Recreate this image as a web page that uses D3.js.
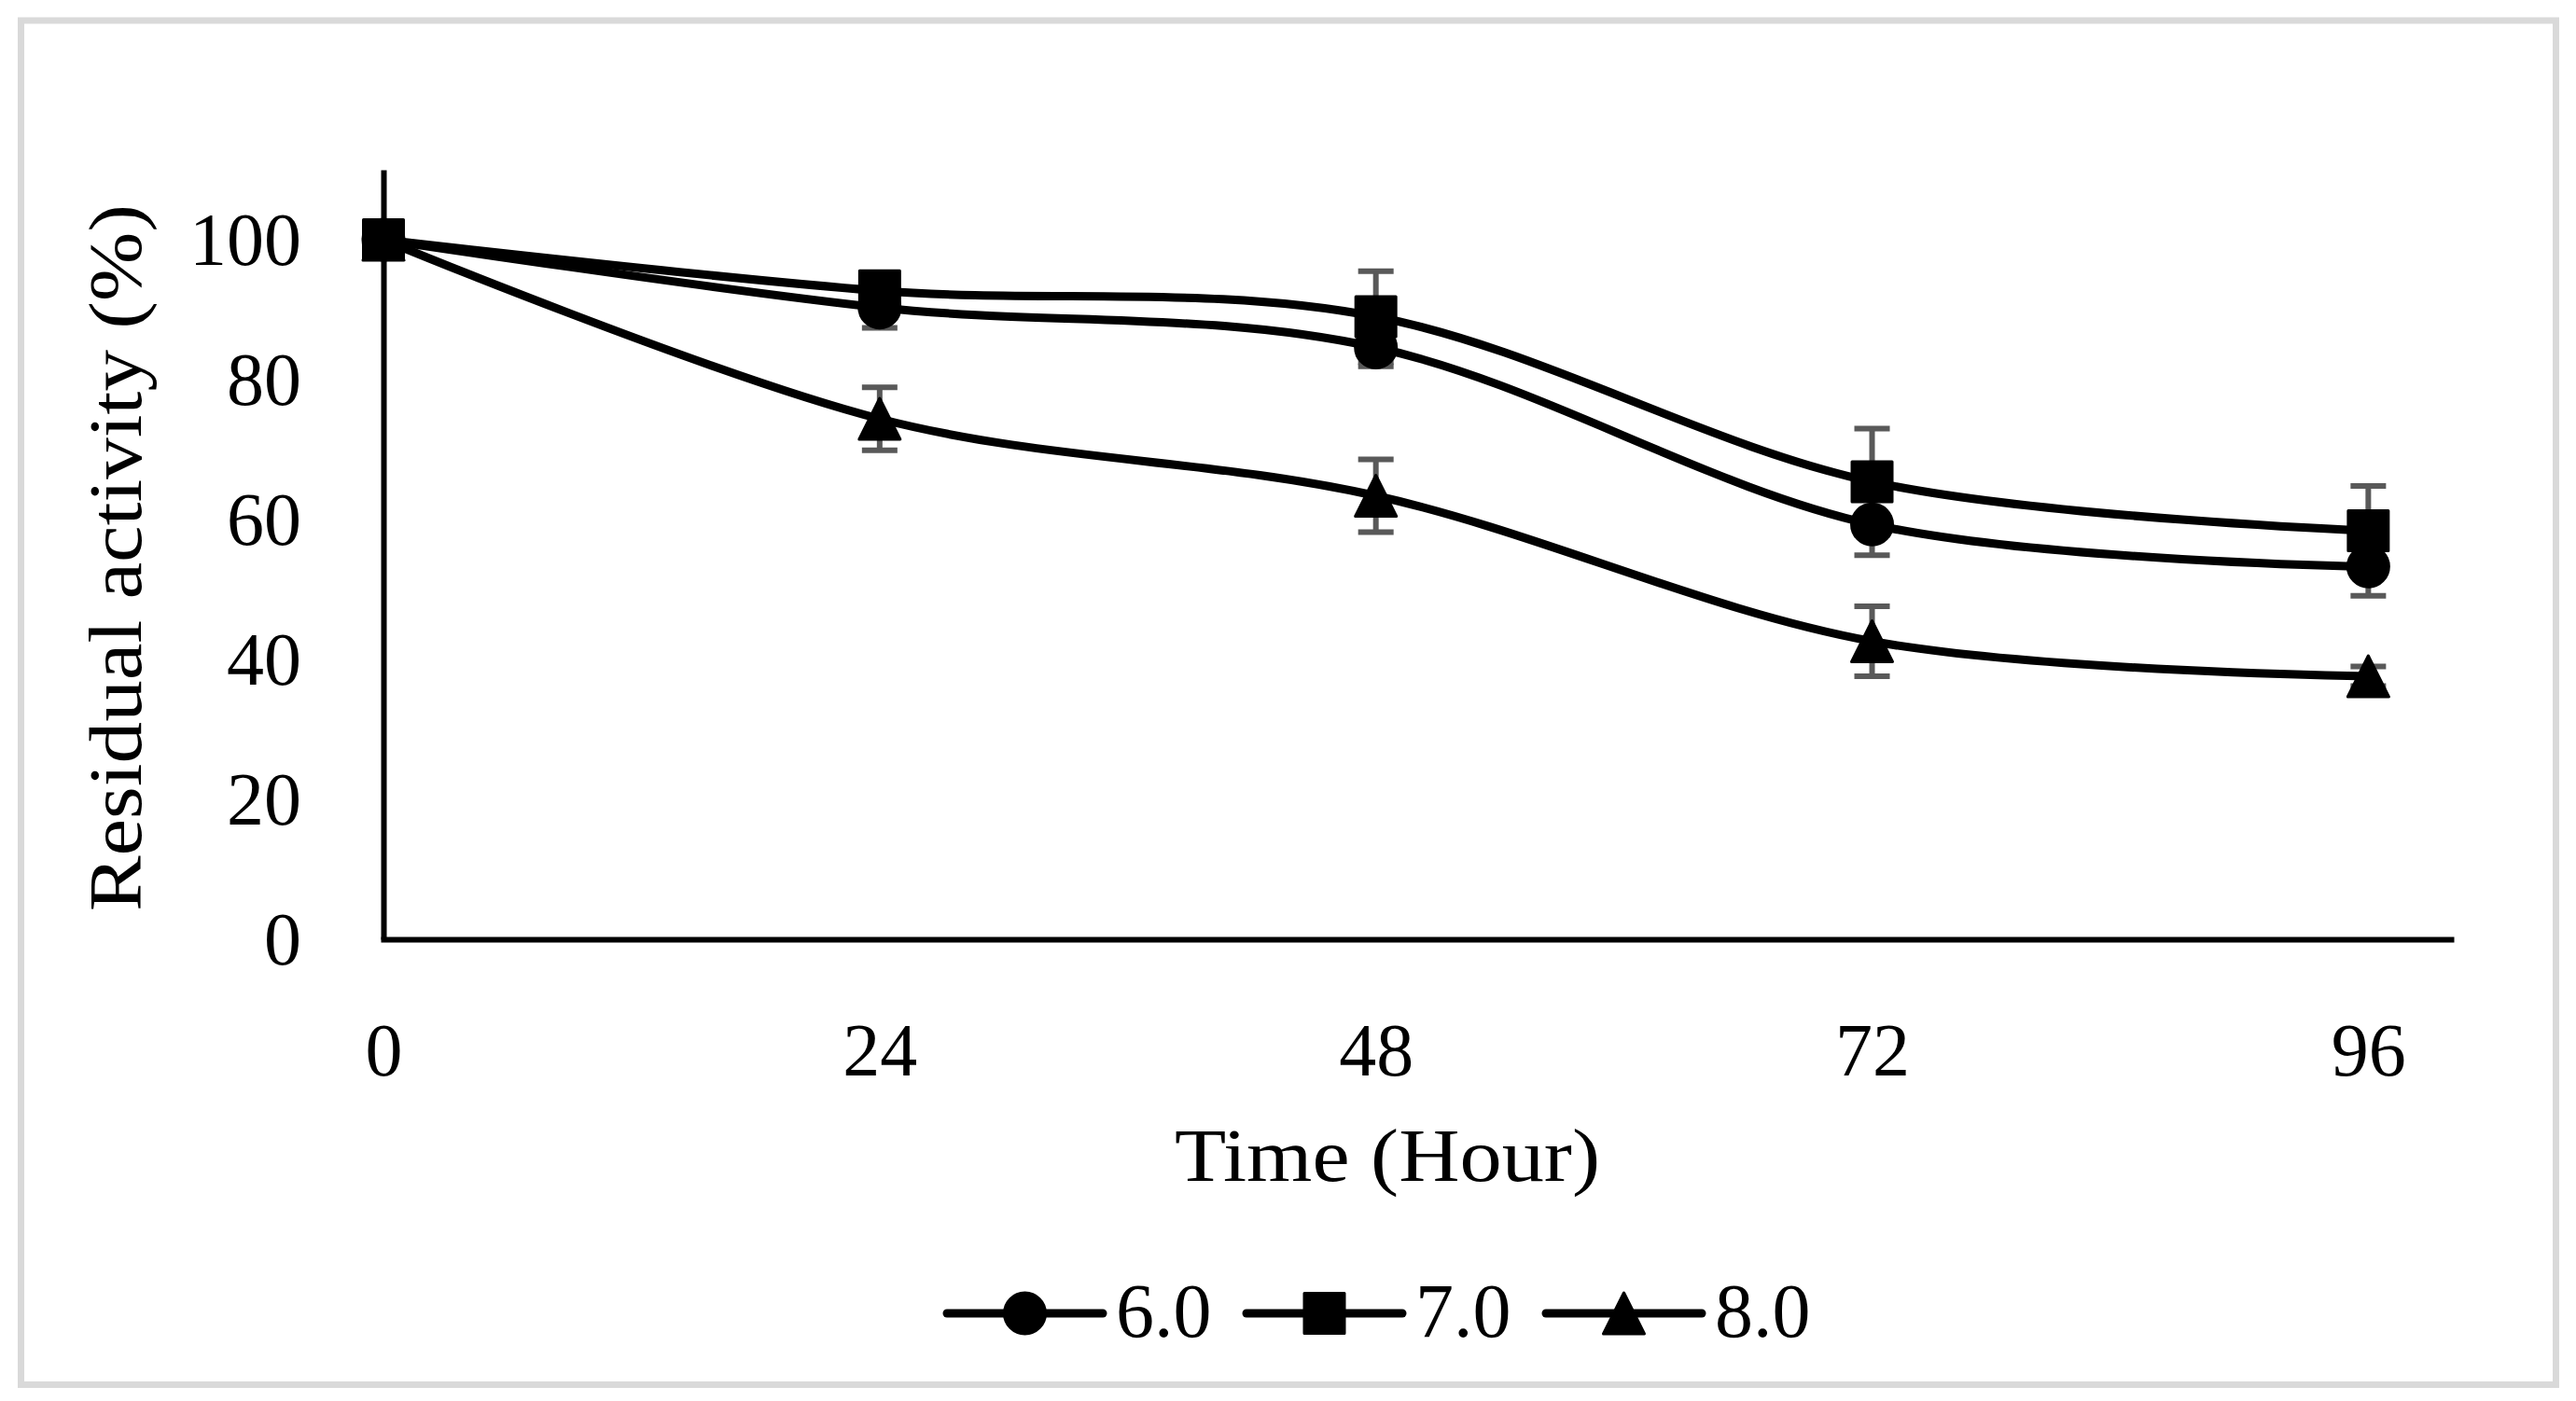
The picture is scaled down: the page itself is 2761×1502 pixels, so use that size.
<!DOCTYPE html>
<html><head><meta charset="utf-8">
<script src="https://cdn.jsdelivr.net/npm/d3@7"></script>
<style>html,body{margin:0;padding:0;background:#fff;} svg{display:block}</style>
</head><body><div id="chart"></div>
<script>
// ---- data ----
const hours = [0, 24, 48, 72, 96];
const xTicks = [0, 24, 48, 72, 96];
const yTicks = [0, 20, 40, 60, 80, 100];
const seriesNames = ["6.0", "7.0", "8.0"];
const ph6 = [100, 90.3, 84.6, 59.3, 53.3];
const ph7 = [100, 92.7, 89.0, 65.4, 58.4];
const ph8 = [100, 74.4, 63.4, 42.6, 37.6];
const err6 = [0, 2.9, 2.7, 4.4, 4.2];
const err7 = [0, 1.5, 6.5, 7.6, 6.4];
const err8 = [0, 4.5, 5.2, 5.0, 1.4];
const xTitle = "Time (Hour)";
const yTitle = "Residual activity (%)";

// ---- layout ----
const W = 2761, H = 1502;
const FONT = "'Liberation Serif', 'Times New Roman', serif";
const svg = d3.select("#chart").append("svg").attr("width", W).attr("height", H);
svg.append("rect").attr("width", W).attr("height", H).attr("fill", "#fff");
svg.append("rect").attr("x", 22.5).attr("y", 22).attr("width", 2717).attr("height", 1462.5)
  .attr("fill", "none").attr("stroke", "#d9d9d9").attr("stroke-width", 7);

const x = d3.scaleLinear().domain([0, 100]).range([411, 2627]);
const y = d3.scaleLinear().domain([0, 110]).range([1007, 182]);

// triangle symbol (isoceles, bbox-centered, like Excel)
const triType = { draw(ctx, size) { const h = Math.sqrt(size) / 2;
  ctx.moveTo(0, -h); ctx.lineTo(h, h); ctx.lineTo(-h, h); ctx.closePath(); } };
const squareType = { draw(ctx, size) { const h = Math.sqrt(size) / 2;
  ctx.moveTo(-h, -h); ctx.lineTo(h, -h); ctx.lineTo(h, h); ctx.lineTo(-h, h); ctx.closePath(); } };
const circleType = { draw(ctx, size) { const r = Math.sqrt(size) / 2;
  ctx.moveTo(r, 0); ctx.arc(0, 0, r, 0, 2 * Math.PI); } };
const symTypes = [circleType, squareType, triType];
const symSizes = [44 * 44, 43 * 43, 44 * 44];

const series = seriesNames.map((name, i) => ({
  name,
  values: [ph6, ph7, ph8][i],
  errs: [err6, err7, err8][i],
  sym: symTypes[i], size: symSizes[i]
}));

// ---- axes ----
const yAxis = svg.append("g").attr("transform", `translate(${x(0)},0)`)
  .call(d3.axisLeft(y).tickValues(yTicks).tickSize(0).tickPadding(88));
yAxis.select(".domain").attr("stroke", "#000").attr("stroke-width", 6);
yAxis.selectAll("text").attr("font-family", FONT).attr("font-size", 80).attr("fill", "#000")
  .attr("dy", "0.33em");

const xAxis = svg.append("g").attr("transform", `translate(0,${y(0)})`)
  .call(d3.axisBottom(x).tickValues(xTicks).tickSize(0).tickPadding(0));
xAxis.select(".domain").attr("stroke", "#000").attr("stroke-width", 6).attr("stroke-linecap", "square");
xAxis.selectAll("text").attr("font-family", FONT).attr("font-size", 80).attr("fill", "#000")
  .attr("y", 146).attr("dy", 0);

// titles
svg.append("text").attr("x", 1487).attr("y", 1266).attr("text-anchor", "middle")
  .attr("font-family", FONT).attr("font-size", 80).attr("textLength", 456)
  .attr("lengthAdjust", "spacingAndGlyphs").text(xTitle);
svg.append("text").attr("transform", "translate(151,598) rotate(-90)").attr("text-anchor", "middle")
  .attr("font-family", FONT).attr("font-size", 80).attr("textLength", 758)
  .attr("lengthAdjust", "spacingAndGlyphs").text(yTitle);

// ---- error bars ----
const eg = svg.append("g").attr("stroke", "#595959").attr("stroke-width", 6);
series.forEach(s => {
  hours.forEach((h, j) => {
    const e = s.errs[j]; if (!e) return;
    const cx = x(h), y1 = y(s.values[j] + e), y2 = y(s.values[j] - e);
    eg.append("line").attr("x1", cx).attr("x2", cx).attr("y1", y1).attr("y2", y2);
    eg.append("line").attr("x1", cx - 19).attr("x2", cx + 19).attr("y1", y1).attr("y2", y1);
    eg.append("line").attr("x1", cx - 19).attr("x2", cx + 19).attr("y1", y2).attr("y2", y2);
  });
});

// ---- lines ----
const line = d3.line().x(d => x(d[0])).y(d => y(d[1])).curve(d3.curveCardinal.tension(0));
series.forEach(s => {
  svg.append("path").datum(hours.map((h, j) => [h, s.values[j]]))
    .attr("d", line).attr("fill", "none").attr("stroke", "#000").attr("stroke-width", 9)
    .attr("stroke-linecap", "round").attr("stroke-linejoin", "round");
});
// ---- markers ----
series.forEach(s => {
  svg.append("g").selectAll("path").data(hours.map((h, j) => [h, s.values[j]])).join("path")
    .attr("transform", d => `translate(${x(d[0])},${y(d[1])})`)
    .attr("d", d3.symbol().type(s.sym).size(s.size))
    .attr("fill", "#000").attr("stroke", "#000").attr("stroke-width", 3).attr("stroke-linejoin", "round");
});

// ---- legend ----
const legX0 = 1015, legStep = 321, legY = 1408;
series.forEach((s, i) => {
  const gx = legX0 + i * legStep;
  const g = svg.append("g").attr("transform", `translate(${gx},${legY})`);
  g.append("line").attr("x1", 0).attr("x2", 167).attr("stroke", "#000").attr("stroke-width", 9)
    .attr("stroke-linecap", "round");
  g.append("path").attr("transform", "translate(83.5,0)")
    .attr("d", d3.symbol().type(s.sym).size(s.size))
    .attr("fill", "#000").attr("stroke", "#000").attr("stroke-width", 3).attr("stroke-linejoin", "round");
  g.append("text").attr("x", 181).attr("y", 25).attr("font-family", FONT).attr("font-size", 82)
    .text(s.name);
});
</script>
</body></html>
